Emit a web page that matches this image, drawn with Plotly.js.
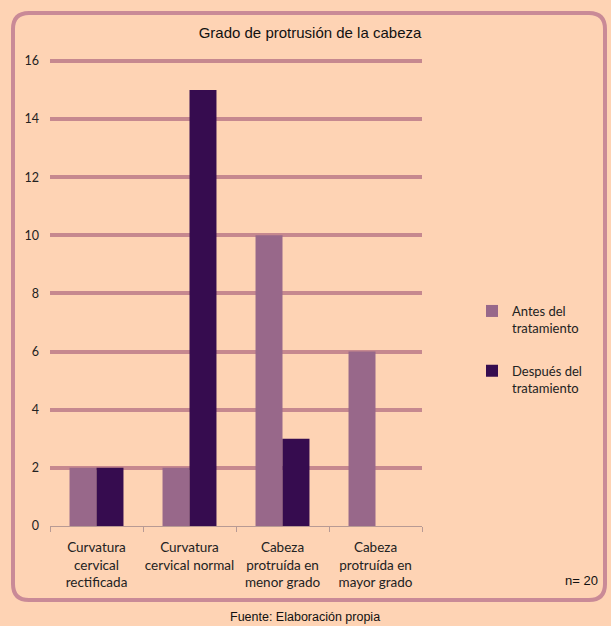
<!DOCTYPE html>
<html>
<head>
<meta charset="utf-8">
<script src="https://cdn.plot.ly/plotly-3.0.1.min.js"></script>
<style>
  html, body { margin: 0; padding: 0; background: #fed3b4; }
  #chart { width: 611px; height: 626px; }
</style>
</head>
<body>
<div id="chart"></div>
<script>
// Categories (x axis, multi-line labels)
const categories = [
  "Curvatura<br>cervical<br>rectificada",
  "Curvatura<br>cervical normal",
  "Cabeza<br>protruída en<br>menor grado",
  "Cabeza<br>protruída en<br>mayor grado"
];

// Series values
const antes = [2, 2, 10, 6];
const despues = [2, 15, 3, 0];

const seriesNames = ["Antes del<br>tratamiento", "Después del<br>tratamiento"];
const yTicks = [0, 2, 4, 6, 8, 10, 12, 14, 16];

// Plot area in pixels, used to place the frame around the whole figure
const W = 611, H = 626;
const M = { l: 50, r: 189, t: 58, b: 100 };
const pw = W - M.l - M.r, ph = H - M.t - M.b;
const px = x => (x - M.l) / pw;
const py = y => (H - M.b - y) / ph;

function roundedFrame(x0, y0, x1, y1, r) {
  const P = (x, y) => px(x) + "," + py(y);
  return "M" + P(x0 + r, y0) +
    " L" + P(x1 - r, y0) + " Q" + P(x1, y0) + " " + P(x1, y0 + r) +
    " L" + P(x1, y1 - r) + " Q" + P(x1, y1) + " " + P(x1 - r, y1) +
    " L" + P(x0 + r, y1) + " Q" + P(x0, y1) + " " + P(x0, y1 - r) +
    " L" + P(x0, y0 + r) + " Q" + P(x0, y0) + " " + P(x0 + r, y0) + " Z";
}

const traces = [
  { type: "bar", x: categories, y: antes, name: seriesNames[0], legendgroup: "antes",
    marker: { color: "#98688a", line: { width: 0 } }, hoverinfo: "y" },
  { type: "bar", x: categories, y: despues, name: seriesNames[1], legendgroup: "despues",
    marker: { color: "#360c4f", line: { width: 0 } }, hoverinfo: "y" }
];

const layout = {
  width: W, height: H,
  margin: M,
  paper_bgcolor: "#fed3b4",
  plot_bgcolor: "rgba(0,0,0,0)",
  barmode: "group",
  bargap: 0.42,
  bargroupgap: 0,
  showlegend: true,
  title: {
    text: "Grado de protrusión de la cabeza",
    font: { family: "Liberation Sans, Arial, sans-serif", size: 15, color: "#111" },
    x: 310 / W, xanchor: "center",
    y: 1 - 33 / H, yanchor: "middle"
  },
  xaxis: {
    type: "category",
    showgrid: false,
    zeroline: false,
    showline: true, linecolor: "#b89a94", linewidth: 1,
    ticks: "outside", ticklen: 5, tickcolor: "#b89a94", tickson: "boundaries",
    tickangle: 0,
    tickfont: { family: "Lato, sans-serif", size: 13.5, color: "#222" },
    ticklabelstandoff: 9,
    fixedrange: true
  },
  yaxis: {
    range: [0, 16.1],
    tickvals: yTicks,
    showgrid: true, gridcolor: "#c6888f", gridwidth: 4,
    zeroline: false, showline: false,
    ticks: "",
    ticklabelstandoff: 10,
    tickfont: { family: "Lato, sans-serif", size: 12.5, color: "#222" },
    fixedrange: true
  },
  legend: {
    x: px(472), y: py(296), xanchor: "left", yanchor: "top",
    bgcolor: "rgba(0,0,0,0)",
    font: { family: "Lato, sans-serif", size: 13, color: "#222" },
    tracegroupgap: 23,
    valign: "top",
    traceorder: "grouped",
    itemwidth: 30
  },
  shapes: [
    { type: "path", xref: "paper", yref: "paper",
      path: roundedFrame(13, 13, 605, 600, 16),
      line: { color: "#c98a97", width: 4 }, fillcolor: "rgba(0,0,0,0)", layer: "below" }
  ],
  annotations: [
    { text: "n= 20", xref: "paper", yref: "paper", x: px(600), y: py(580),
      xanchor: "right", yanchor: "middle", showarrow: false,
      font: { family: "Liberation Sans, Arial, sans-serif", size: 13, color: "#111" } },
    { text: "Fuente: Elaboración propia", xref: "paper", yref: "paper",
      x: px(305), y: py(617), xanchor: "center", yanchor: "middle", showarrow: false,
      font: { family: "Liberation Sans, Arial, sans-serif", size: 12.5, color: "#111" } }
  ]
};

Plotly.newPlot("chart", traces, layout, { displayModeBar: false, staticPlot: true });
</script>
</body>
</html>
